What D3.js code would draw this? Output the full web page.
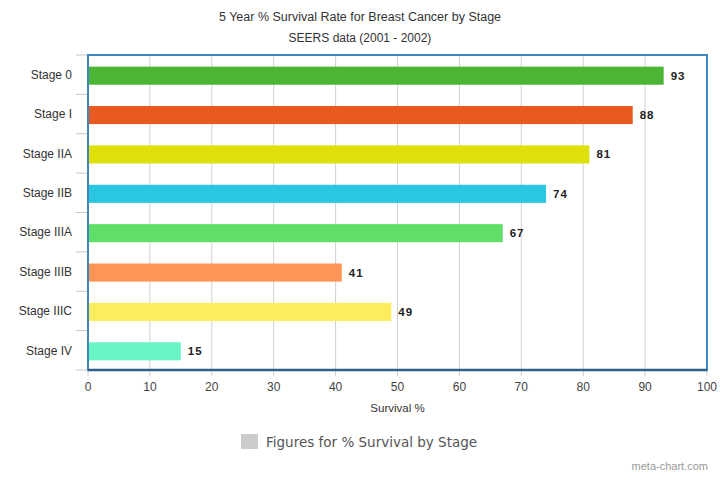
<!DOCTYPE html>
<html><head><meta charset="utf-8">
<script src="https://cdn.jsdelivr.net/npm/d3@7"></script>
<style>body{margin:0;background:#fff;}svg{display:block;font-family:"Liberation Sans",Arial,sans-serif;}</style>
</head><body>
<svg id="c" width="720" height="480"></svg>
<script>
const categories = ["Stage 0","Stage I","Stage IIA","Stage IIB","Stage IIIA","Stage IIIB","Stage IIIC","Stage IV"];
const values = [93,88,81,74,67,41,49,15];
const colors = ["#4db535","#e85a20","#dfe00a","#2ac6e2","#5fdf68","#ff9457","#fdec5c","#6af5c6"];
const xTicks = [0,10,20,30,40,50,60,70,80,90,100];
const title = "5 Year % Survival Rate for Breast Cancer by Stage";
const subtitle = "SEERS data (2001 - 2002)";
const xTitle = "Survival %";
const legendLabel = "Figures for % Survival by Stage";
const credit = "meta-chart.com";

const svg = d3.select("#c");
const m = {l:88, r:707, t:55, b:370};
const x = d3.scaleLinear().domain([0,100]).range([m.l,m.r]);
const y = d3.scaleBand().domain(categories).range([m.t+1,m.b+1]).paddingInner(0.54).paddingOuter(0.27);
const yb = d3.scaleBand().domain(categories).range([m.t,m.b]);

// grid
svg.append("g").selectAll("line").data(xTicks).join("line")
  .attr("x1",d=>x(d)).attr("x2",d=>x(d)).attr("y1",m.t).attr("y2",m.b+6)
  .attr("stroke","#d0d0d0").attr("stroke-width",1);

// y ticks (band boundaries)
const bounds = categories.map(c=>yb(c)).concat([m.b]);
svg.append("g").selectAll("line").data(bounds).join("line")
  .attr("x1",m.l-12).attr("x2",m.l).attr("y1",d=>d).attr("y2",d=>d)
  .attr("stroke","#c8c8c8").attr("stroke-width",1);

// bars
svg.append("g").selectAll("rect").data(values).join("rect")
  .attr("x",x(0)).attr("y",(d,i)=>y(categories[i]))
  .attr("width",d=>x(d)-x(0)).attr("height",y.bandwidth())
  .attr("fill",(d,i)=>colors[i]);

// value labels
svg.append("g").selectAll("text").data(values).join("text")
  .attr("x",d=>x(d)+7).attr("y",(d,i)=>y(categories[i])+y.bandwidth()/2)
  .attr("dy","0.35em").attr("font-size",11.5).attr("font-weight","bold").attr("fill","#222")
  .style("letter-spacing","1px")
  .text(d=>d);

// plot border
svg.append("rect").attr("x",m.l).attr("y",m.t).attr("width",m.r-m.l).attr("height",m.b-m.t)
  .attr("fill","none").attr("stroke","#3f86c2").attr("stroke-width",2);
svg.append("line").attr("x1",m.l).attr("x2",m.r).attr("y1",m.b).attr("y2",m.b)
  .attr("stroke","#2f5f8a").attr("stroke-width",2.5);

// category labels
svg.append("g").selectAll("text").data(categories).join("text")
  .attr("x",m.l-16).attr("y",d=>yb(d)+yb.bandwidth()/2)
  .attr("dy","0.35em").attr("text-anchor","end").attr("font-size",12).attr("fill","#333")
  .text(d=>d);

// x tick labels
svg.append("g").selectAll("text").data(xTicks).join("text")
  .attr("x",d=>x(d)).attr("y",391).attr("text-anchor","middle")
  .attr("font-size",12).attr("fill","#444").text(d=>d);

svg.append("text").attr("x",(m.l+m.r)/2).attr("y",412).attr("text-anchor","middle")
  .attr("font-size",11.5).attr("fill","#333").text(xTitle);

svg.append("text").attr("x",360).attr("y",21).attr("text-anchor","middle")
  .attr("font-size",12.5).attr("fill","#333").text(title);
svg.append("text").attr("x",360).attr("y",42).attr("text-anchor","middle")
  .attr("font-size",12).attr("fill","#333").text(subtitle);

// legend
svg.append("rect").attr("x",241).attr("y",434).attr("width",17).attr("height",15).attr("fill","#cccccc");
svg.append("text").attr("x",266).attr("y",447).attr("font-family","'DejaVu Sans',sans-serif")
  .attr("font-size",13.5).attr("fill","#555").text(legendLabel);

svg.append("text").attr("x",708).attr("y",470).attr("text-anchor","end")
  .attr("font-size",11).attr("fill","#999").text(credit);
</script>
</body></html>
